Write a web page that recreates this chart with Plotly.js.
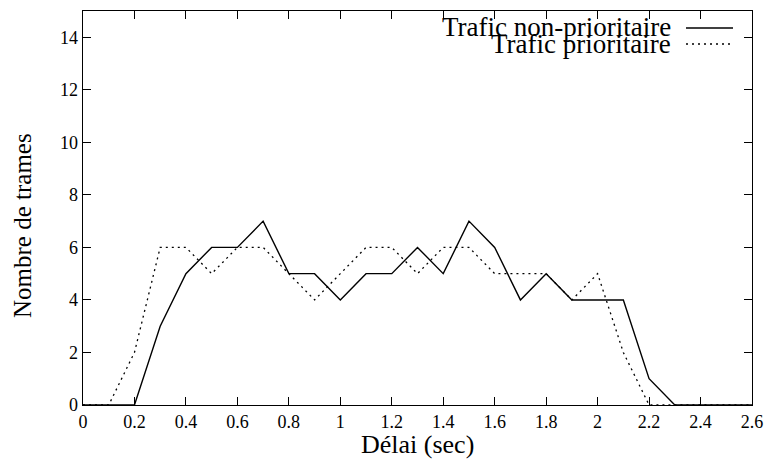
<!DOCTYPE html>
<html>
<head>
<meta charset="utf-8">
<script src="https://cdn.plot.ly/plotly-3.0.1.min.js"></script>
<style>html,body{margin:0;padding:0;background:#fff;}#chart{width:769px;height:459px;}</style>
</head>
<body>
<div id="chart"></div>
<script>
// Délai (sec) sampled every 0.1 s
const delaiNonPrio = [0.0, 0.1, 0.2, 0.3, 0.4, 0.5, 0.6, 0.7, 0.8, 0.9, 1.0, 1.1, 1.2, 1.3, 1.4, 1.5, 1.6, 1.7, 1.8, 1.9, 2.0, 2.1, 2.2, 2.3, 2.4, 2.5, 2.6];
const tramesNonPrio = [0, 0, 0, 3, 5, 6, 6, 7, 5, 5, 4, 5, 5, 6, 5, 7, 6, 4, 5, 4, 4, 4, 1, 0, 0, 0, 0];
const delaiPrio = [0.0, 0.1, 0.2, 0.3, 0.4, 0.5, 0.6, 0.7, 0.8, 0.9, 1.0, 1.1, 1.2, 1.3, 1.4, 1.5, 1.6, 1.7, 1.8, 1.9, 2.0, 2.1, 2.2, 2.3, 2.4, 2.5, 2.6];
const tramesPrio = [0, 0, 2, 6, 6, 5, 6, 6, 5, 4, 5, 6, 6, 5, 6, 6, 5, 5, 5, 4, 5, 2, 0, 0, 0, 0, 0];
const seriesNames = ["Trafic non-prioritaire", "Trafic prioritaire"];
const xTitle = "Délai (sec)";
const yTitle = "Nombre de trames";

const serif = "Liberation Serif, Times New Roman, serif";

const traces = [
  {x: delaiNonPrio, y: tramesNonPrio, mode: "lines", name: seriesNames[0],
   line: {color: "#000", width: 1.4}, showlegend: false, cliponaxis: true},
  {x: delaiPrio, y: tramesPrio, mode: "lines", name: seriesNames[1],
   line: {color: "#000", width: 1.3, dash: "2px,4px"}, showlegend: false, cliponaxis: true}
];

const layout = {
  width: 769, height: 459,
  margin: {l: 83, r: 17, t: 11, b: 54},
  paper_bgcolor: "#fff", plot_bgcolor: "#fff",
  font: {family: serif, color: "#000", size: 18},
  xaxis: {
    range: [0, 2.6], dtick: 0.2, tick0: 0,
    showgrid: false, zeroline: false,
    showline: true, linecolor: "#000", linewidth: 1.3, mirror: "ticks",
    ticks: "inside", ticklen: 8, tickcolor: "#000", tickwidth: 1,
    tickfont: {family: serif, size: 18},
    automargin: false
  },
  yaxis: {
    range: [0, 15], dtick: 2, tick0: 0,
    showgrid: false, zeroline: false,
    showline: true, linecolor: "#000", linewidth: 1.3, mirror: "ticks",
    ticks: "inside", ticklen: 8, tickcolor: "#000", tickwidth: 1,
    tickfont: {family: serif, size: 18},
    automargin: false
  },
  showlegend: false,
  annotations: [
    {xref: "paper", yref: "paper", x: 0.5, y: (405 - 428) / 394,
     xanchor: "center", yanchor: "top", text: xTitle, showarrow: false,
     font: {family: serif, size: 26, color: "#000"}},
    {xref: "paper", yref: "paper", x: (22 - 83) / 669, y: (405 - 226) / 394,
     xanchor: "center", yanchor: "middle", textangle: -90, text: yTitle, showarrow: false,
     font: {family: serif, size: 25, color: "#000"}},
    {xref: "paper", yref: "paper", x: (673 - 83) / 669, y: (405 - 27) / 394,
     xanchor: "right", yanchor: "middle", text: seriesNames[0], showarrow: false,
     font: {family: serif, size: 27, color: "#000"}},
    {xref: "paper", yref: "paper", x: (673 - 83) / 669, y: (405 - 44) / 394,
     xanchor: "right", yanchor: "middle", text: seriesNames[1], showarrow: false,
     font: {family: serif, size: 27, color: "#000"}}
  ],
  shapes: [
    {type: "line", xref: "paper", yref: "paper",
     x0: (686 - 83) / 669, x1: (733 - 83) / 669, y0: (405 - 28) / 394, y1: (405 - 28) / 394,
     line: {color: "#000", width: 1.4}},
    {type: "line", xref: "paper", yref: "paper",
     x0: (686 - 83) / 669, x1: (733 - 83) / 669, y0: (405 - 44) / 394, y1: (405 - 44) / 394,
     line: {color: "#000", width: 1.3, dash: "2px,4px"}}
  ]
};

Plotly.newPlot("chart", traces, layout, {staticPlot: true, displayModeBar: false});
</script>
</body>
</html>
